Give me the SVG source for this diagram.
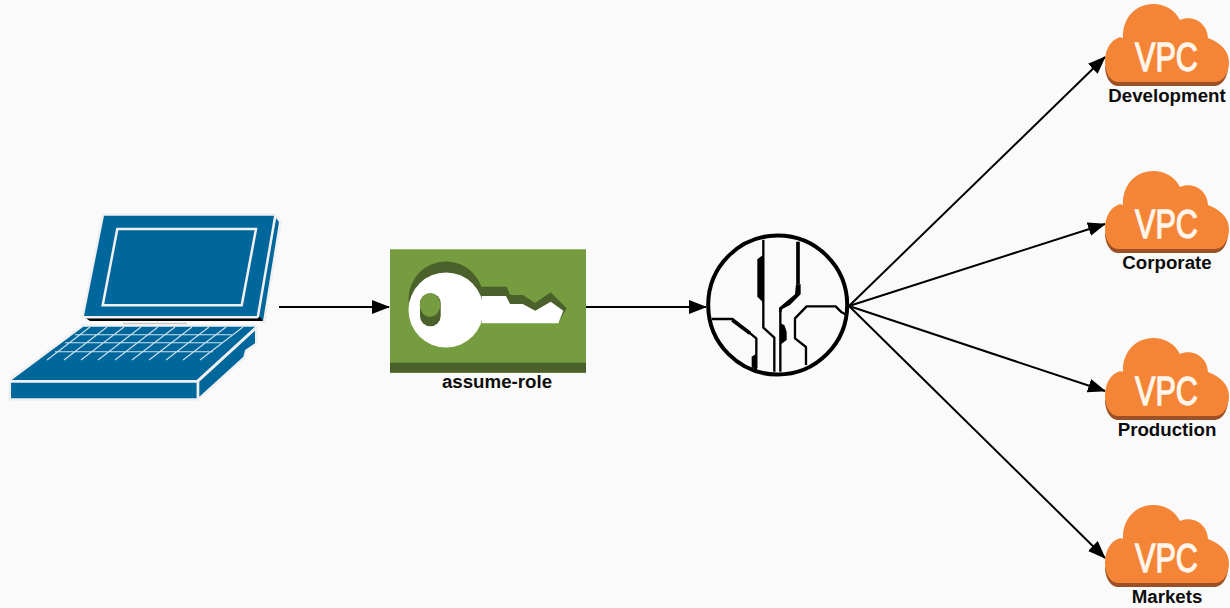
<svg xmlns="http://www.w3.org/2000/svg" width="1230" height="608" viewBox="0 0 1230 608">
<style>
.lbl{font:bold 18.700px "Liberation Sans",Arial,sans-serif;fill:#0d0d0d;text-anchor:middle}
.vpc{font:40.500px "Liberation Sans",Arial,sans-serif;fill:#fff5ea;stroke:#fff5ea;stroke-width:1.300}
.conn{stroke:#000;stroke-width:2;fill:none;marker-end:url(#arr)}
.lap{fill:#00679c;stroke:#f0f0f0;stroke-width:5;stroke-linejoin:round;paint-order:stroke}
.grid{stroke:#cfe2ec;stroke-width:1.100;fill:none}
.c{fill:none;stroke:#000;stroke-width:7;stroke-linejoin:round}
.t{fill:none;stroke:#000;stroke-width:11;stroke-linejoin:round}
</style>
<defs>
<marker id="arr" markerUnits="userSpaceOnUse" markerWidth="18" markerHeight="14" refX="17" refY="7" orient="auto"><path d="M0 0L18 7L0 14z" fill="#000"/></marker>
<g id="cloud">
<path d="M1117 86C1109 85 1105 75 1105 66L1228 66C1228 75 1224 85 1215 86Z" fill="#9d5025"/>
<path d="M1118 82C1110 82 1105 72 1105 62C1105 50 1110 42 1116 39C1119 37 1121 37 1123 38C1122 18 1136 4 1153 4C1165 4 1175 10 1180 20C1191 15 1207 21 1208 38C1219 42 1229 50 1229 62C1229 72 1224 82 1215 82Z" fill="#f58536"/>
</g>
</defs>
<rect width="1230" height="608" fill="#fafafa"/>
<g id="connectors">
<path class="conn" d="M279 307H389"/>
<path class="conn" d="M586 307H706"/>
<path class="conn" d="M849 306L1105 57"/>
<path class="conn" d="M849 306L1105 224"/>
<path class="conn" d="M849 306L1105 391"/>
<path class="conn" d="M849 306L1105 558"/>
</g>
<g id="laptop">
<path class="lap" d="M276 218L279 222L263 321L258 317Z"/>
<path d="M84 317H260L263 321H90Z" fill="#000"/>
<path d="M123 323.500H187" stroke="#c8c8c8" stroke-width="1.500"/>
<path class="lap" d="M104 215.700H274L256.700 316H84Z"/>
<path d="M117.300 229H256L241.700 305.300H102.700Z" fill="none" stroke="#f0f0f0" stroke-width="2.500"/>
<path class="lap" d="M83.300 326.700H255L196.700 380H11.700Z"/>
<path class="lap" d="M11 382.700H196.700V398.300H11Z"/>
<path class="lap" d="M199.300 381.700L255 330.700V343.300L245 350L243.300 356.700L199.300 396.700Z"/>
<path class="grid" d="M75 334.700H231.700M65 342.700H221.700M55 351.700H213M90 327L47 360M107 327L64 360M124 327L81 360M141 327L98 360M158 327L115 360M175 327L132 360M192 327L149 360M209 327L166 360M226 327L183 360M243 327L200 360"/>
</g>
<g id="assume-role">
<rect x="390" y="249.300" width="196" height="123.400" fill="#759c3e"/>
<rect x="390" y="362.700" width="196" height="10" fill="#4b612c"/>
<circle cx="446" cy="299" r="37.500" fill="#4b612c"/>
<path d="M481 286.700H506.700L510 295H523L535 303L550.700 292.300L566.700 308.300L558 323H481Z" fill="#4b612c"/>
<circle cx="446" cy="310" r="37.500" fill="#fff"/>
<path d="M481.700 296H506L510 304H522.700L535.300 310.700L550.700 301.700L563.300 310.700L558.300 323.300H481.700Z" fill="#fff"/>
<rect x="420" y="293.300" width="20.700" height="33" rx="10.300" fill="#4b612c"/>
<ellipse cx="430" cy="305" rx="10.300" ry="11.700" fill="#759c3e"/>
<text class="lbl" x="497" y="388">assume-role</text>
</g>
<g id="router">
<circle cx="777.700" cy="305" r="69.500" fill="#fafafa" stroke="#000" stroke-width="4"/>
<g transform="translate(695 225) scale(.3333)">
<path class="c" d="M205 44V308L238 338V440"/>
<path d="M207 88L187 103V215L207 235Z"/>
<path class="t" d="M309 50V178"/>
<path d="M303 178H317V208L285 240L262 252L259 262H252V248L300 208Z"/>
<path class="c" d="M256 250V440"/>
<path d="M255 295L268 300L275 320V345L255 360Z"/>
<path class="c" d="M50 282H112L184 340V430"/>
<path class="t" d="M112 285L165 325"/>
<path d="M170 395L186 385V437L170 427Z"/>
<path class="c" d="M455 270L440 262L422 244H335L300 280V340L333 366V420"/>
</g>
</g>
<g id="vpc-development">
<use href="#cloud"/>
<text class="vpc" x="1135" y="71" textLength="63" lengthAdjust="spacingAndGlyphs">VPC</text>
<text class="lbl" x="1167" y="102">Development</text>
</g>
<g id="vpc-corporate">
<use href="#cloud" y="167"/>
<text class="vpc" x="1135" y="238" textLength="63" lengthAdjust="spacingAndGlyphs">VPC</text>
<text class="lbl" x="1167" y="269">Corporate</text>
</g>
<g id="vpc-production">
<use href="#cloud" y="334"/>
<text class="vpc" x="1135" y="405" textLength="63" lengthAdjust="spacingAndGlyphs">VPC</text>
<text class="lbl" x="1167" y="436">Production</text>
</g>
<g id="vpc-markets">
<use href="#cloud" y="501"/>
<text class="vpc" x="1135" y="572" textLength="63" lengthAdjust="spacingAndGlyphs">VPC</text>
<text class="lbl" x="1167" y="603">Markets</text>
</g>
</svg>
